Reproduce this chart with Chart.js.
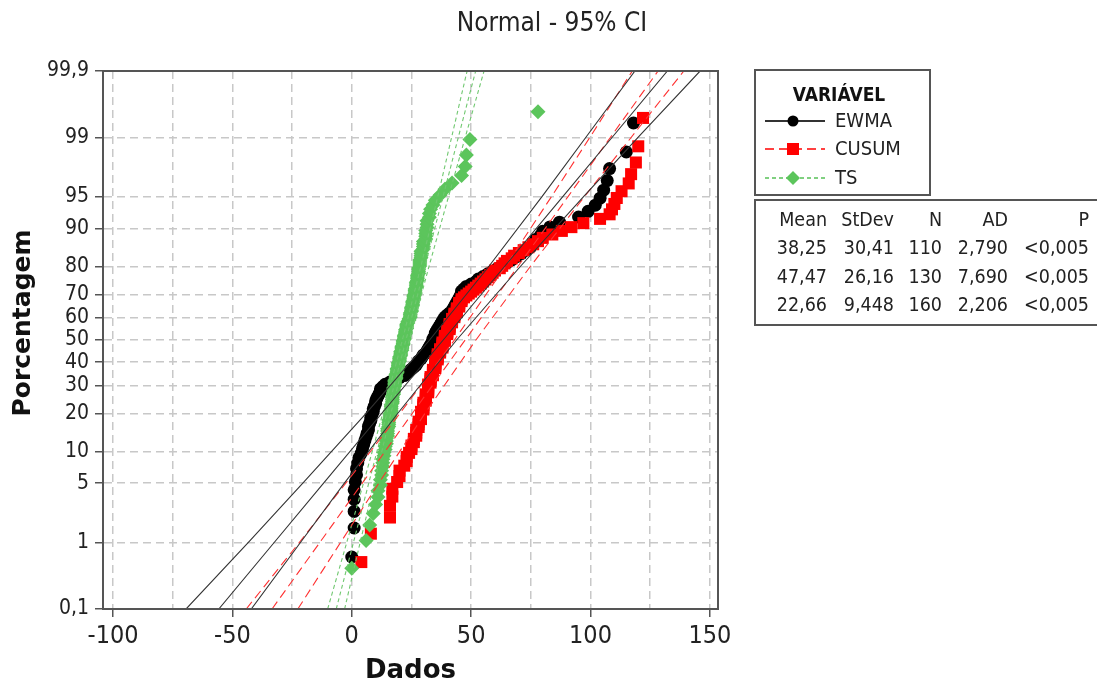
<!DOCTYPE html>
<html>
<head>
<meta charset="utf-8">
<script src="https://cdn.jsdelivr.net/npm/chart.js@4.4.1/dist/chart.umd.min.js"></script>
<style>
  html, body { margin: 0; padding: 0; background: #fff; }
</style>
</head>
<body>
<canvas id="canvas" width="1097" height="687"></canvas>
<script>
const ewma = [0, 1, 1, 1, 1, 1.5, 2, 2, 2.5, 3,
  4, 4.5, 5, 5.5, 6, 6.5, 7, 7, 7.5, 8,
  8, 8.5, 9, 9, 9.5, 10, 10, 10.5, 11, 11.5,
  12, 12, 13, 14, 16, 18, 20, 22, 23, 24,
  25, 26, 27, 27.5, 28, 29, 29.5, 30, 31, 31.5,
  32, 32.5, 33, 33.5, 34, 34, 34.5, 35, 35, 35.5,
  36, 36.5, 37, 37.5, 38, 38.5, 39, 40, 41, 42,
  42.5, 43, 43.5, 44, 44.5, 45, 45.5, 46, 46, 47,
  48, 50, 52, 53, 55, 57, 59, 61, 63, 65,
  67, 69, 71, 73, 75, 76, 77, 79, 80, 83,
  87, 95, 99, 102, 104, 105.5, 107, 108, 115, 118];

const cusum = [4, 8, 16, 16, 17, 17, 19, 20, 20, 22,
  23, 23, 24, 25, 25, 26, 26, 27, 27, 27,
  28, 28, 28, 29, 29, 29, 29, 30, 30, 30,
  30, 31, 31, 31, 31, 32, 32, 32, 32, 32,
  33, 33, 33, 33, 34, 34, 34, 34, 35, 35,
  35, 35, 35, 36, 36, 36, 36, 37, 37, 37,
  38, 38, 38, 38, 39, 39, 39, 39, 40, 40,
  40, 41, 41, 41, 41, 42, 42, 42, 43, 43,
  43, 44, 44, 44, 45, 45, 45, 46, 46, 47,
  48, 49, 50, 51, 52, 53, 54, 55, 56, 57,
  58, 59, 60, 62, 63, 64, 65, 67, 68, 70,
  72, 74, 76, 78, 80, 84, 88, 92, 97, 104,
  108, 109, 110, 111, 113, 116, 117, 119, 120, 122];

const ts = [0, 6, 7.5, 9, 10, 11, 11, 12, 12, 12.5,
  12.5, 13, 13, 13, 13.5, 13.5, 14, 14, 14.5, 14.5,
  14.5, 15, 15, 15, 15, 15.5, 15.5, 15.5, 15.5, 16,
  16, 16, 16.5, 16.5, 16.5, 16.5, 16.5, 17, 17, 17,
  17, 17, 17.5, 17.5, 17.5, 17.5, 17.5, 18, 18, 18,
  18, 18, 18.5, 18.5, 18.5, 18.5, 19, 19, 19, 19,
  19.5, 19.5, 19.5, 19.5, 20, 20, 20, 20, 20.5, 20.5,
  20.5, 20.5, 21, 21, 21, 21, 21.5, 21.5, 21.5, 21.5,
  22, 22, 22, 22, 22.5, 22.5, 22.5, 22.5, 23, 23,
  23, 23, 23.5, 23.5, 24, 24, 24.5, 24.5, 24.5, 24.5,
  25, 25, 25, 25, 25.5, 25.5, 25.5, 25.5, 26, 26,
  26, 26, 26.5, 26.5, 26.5, 26.5, 27, 27, 27, 27,
  27.5, 27.5, 27.5, 27.5, 28, 28, 28, 28, 28.5, 28.5,
  28.5, 28.5, 29, 29, 29, 29, 30, 30, 30, 30,
  31, 31, 31, 31, 31.5, 31.5, 31.5, 32.5, 32.5, 33,
  34, 35, 37, 39, 42, 46, 47.5, 48, 49.5, 78];

// fitted line and 95% CI, x values at these percentages
const fitPcts = [0.1, 1, 5, 20, 50, 80, 95, 99, 99.9];
const ewmaFit = [-55.7, -32.5, -11.8, 12.6, 38.3, 63.9, 88.3, 109.0, 132.2];
const ewmaLo = [-69.4, -43.4, -20.5, 6.0, 32.6, 57.3, 79.6, 98.0, 118.6];
const ewmaHi = [-42.1, -21.5, -3.1, 19.3, 43.9, 70.5, 97.0, 119.9, 145.9];
const cusumFit = [-33.4, -13.4, 4.4, 25.4, 47.5, 69.5, 90.5, 108.3, 128.3];
const cusumLo = [-44.2, -22.0, -2.5, 20.2, 43.0, 64.3, 83.6, 99.7, 117.5];
const cusumHi = [-22.6, -4.7, 11.3, 30.7, 52.0, 74.7, 97.4, 117.0, 139.1];
const tsFit = [-6.5, 0.7, 7.1, 14.7, 22.7, 30.6, 38.2, 44.6, 51.9];
const tsLo = [-10.1, -2.1, 4.9, 13.0, 21.2, 28.9, 36.0, 41.8, 48.3];
const tsHi = [-3.0, 3.5, 9.4, 16.4, 24.1, 32.3, 40.5, 47.5, 55.4];

const yTickPcts = [0.1, 1, 5, 10, 20, 30, 40, 50, 60, 70, 80, 90, 95, 99, 99.9];
const yTickLabels = ["0,1", "1", "5", "10", "20", "30", "40", "50", "60", "70", "80", "90", "95", "99", "99,9"];
const xGrid = [-100, -75, -50, -25, 0, 25, 50, 75, 100, 125, 150];

const seriesNames = ["EWMA", "CUSUM", "TS"];
const statsHeader = ["Mean", "StDev", "N", "AD", "P"];
const statsRows = [
  ["38,25", "30,41", "110", "2,790", "<0,005"],
  ["47,47", "26,16", "130", "7,690", "<0,005"],
  ["22,66", "9,448", "160", "2,206", "<0,005"],
];
const subtitle = "Normal - 95% CI";
const yTitle = "Porcentagem";

const FONT = '"DejaVu Sans Condensed", "DejaVu Sans", sans-serif';
const BOLD = '"DejaVu Sans", sans-serif';

// inverse standard normal cdf (Acklam)
function probit(p) {
  const a = [-3.969683028665376e+01, 2.209460984245205e+02, -2.759285104469687e+02, 1.383577518672690e+02, -3.066479806614716e+01, 2.506628277459239e+00];
  const b = [-5.447609879822406e+01, 1.615858368580409e+02, -1.556989798598866e+02, 6.680131188771972e+01, -1.328068155288572e+01];
  const c = [-7.784894002430293e-03, -3.223964580411365e-01, -2.400758277161838e+00, -2.549732539343734e+00, 4.374664141464968e+00, 2.938163982698783e+00];
  const d = [7.784695709041462e-03, 3.224671290700398e-01, 2.445134137142996e+00, 3.754408661907416e+00];
  const pl = 0.02425;
  let q, r;
  if (p < pl) {
    q = Math.sqrt(-2 * Math.log(p));
    return (((((c[0] * q + c[1]) * q + c[2]) * q + c[3]) * q + c[4]) * q + c[5]) / ((((d[0] * q + d[1]) * q + d[2]) * q + d[3]) * q + 1);
  }
  if (p > 1 - pl) {
    q = Math.sqrt(-2 * Math.log(1 - p));
    return -(((((c[0] * q + c[1]) * q + c[2]) * q + c[3]) * q + c[4]) * q + c[5]) / ((((d[0] * q + d[1]) * q + d[2]) * q + d[3]) * q + 1);
  }
  q = p - 0.5;
  r = q * q;
  return (((((a[0] * r + a[1]) * r + a[2]) * r + a[3]) * r + a[4]) * r + a[5]) * q / (((((b[0] * r + b[1]) * r + b[2]) * r + b[3]) * r + b[4]) * r + 1);
}

// median rank plotting positions
function toPoints(vals) {
  return vals.map((x, i) => ({ x: x, y: probit((i + 1 - 0.3) / (vals.length + 0.4)) }));
}
function toLine(xs) {
  return xs.map((x, i) => ({ x: x, y: probit(fitPcts[i] / 100) }));
}

function lineSet(xs, color, dash, width) {
  return {
    data: toLine(xs), showLine: true, pointRadius: 0, borderColor: color,
    borderWidth: width, borderDash: dash, fill: false, order: 0,
  };
}

const chartDecor = {
  id: "chartDecor",
  afterDraw(chart) {
    const { ctx, chartArea: { left, top, right, bottom } } = chart;
    ctx.save();

    // frame round the plot
    ctx.strokeStyle = "#555";
    ctx.lineWidth = 2;
    ctx.setLineDash([]);
    ctx.strokeRect(left, top, right - left, bottom - top);

    // subtitle
    ctx.fillStyle = "#222";
    ctx.font = "26px " + FONT;
    ctx.textAlign = "center";
    ctx.textBaseline = "middle";
    ctx.fillText(subtitle, 552, 24);

    // y axis title
    ctx.save();
    ctx.translate(23, 323);
    ctx.rotate(-Math.PI / 2);
    ctx.font = "bold 25px " + BOLD;
    ctx.fillStyle = "#111";
    ctx.fillText(yTitle, 0, 0);
    ctx.restore();

    // legend box
    ctx.strokeStyle = "#555";
    ctx.lineWidth = 2;
    ctx.strokeRect(755, 70, 175, 125);
    ctx.font = "bold 19px " + FONT;
    ctx.fillStyle = "#111";
    ctx.fillText("VARIÁVEL", 839, 96);

    const rows = [
      { y: 121, color: "#333", dash: [], mark: "#000", shape: "circle" },
      { y: 149, color: "#ff4040", dash: [9, 5], mark: "#ff0000", shape: "square" },
      { y: 178, color: "#80d080", dash: [4, 3], mark: "#5cc55c", shape: "diamond" },
    ];
    rows.forEach((r, i) => {
      ctx.beginPath();
      ctx.strokeStyle = r.color;
      ctx.lineWidth = 2;
      ctx.setLineDash(r.dash);
      ctx.moveTo(765, r.y);
      ctx.lineTo(825, r.y);
      ctx.stroke();
      ctx.setLineDash([]);
      ctx.fillStyle = r.mark;
      ctx.beginPath();
      if (r.shape === "circle") {
        ctx.arc(793, r.y, 5.5, 0, Math.PI * 2);
      } else if (r.shape === "square") {
        ctx.rect(787, r.y - 6, 12, 12);
      } else {
        ctx.moveTo(793, r.y - 7);
        ctx.lineTo(800, r.y);
        ctx.lineTo(793, r.y + 7);
        ctx.lineTo(786, r.y);
        ctx.closePath();
      }
      ctx.fill();
      ctx.fillStyle = "#222";
      ctx.font = "20px " + FONT;
      ctx.textAlign = "left";
      ctx.fillText(seriesNames[i], 835, r.y + 1);
      ctx.textAlign = "center";
    });

    // stats table
    ctx.strokeStyle = "#555";
    ctx.lineWidth = 2;
    ctx.strokeRect(755, 200, 350, 125);
    const colRight = [827, 894, 942, 1008, 1089];
    ctx.font = "19.5px " + FONT;
    ctx.fillStyle = "#222";
    ctx.textAlign = "right";
    statsHeader.forEach((h, j) => ctx.fillText(h, colRight[j], 221));
    statsRows.forEach((row, i) => {
      row.forEach((v, j) => ctx.fillText(v, colRight[j], 249 + i * 28.5));
    });

    ctx.restore();
  },
};

const gridBase = {
  color: "#c8c8c8",
  lineWidth: 1.5,
  tickLength: 8,
  tickWidth: 1.5,
  tickBorderDash: [],
};

const ctx = document.getElementById("canvas").getContext("2d");
new Chart(ctx, {
  type: "scatter",
  data: {
    datasets: [
      lineSet(ewmaFit, "#333", [], 1.1),
      lineSet(ewmaLo, "#333", [], 1.1),
      lineSet(ewmaHi, "#333", [], 1.1),
      lineSet(cusumFit, "#ff3030", [9, 5], 1.1),
      lineSet(cusumLo, "#ff3030", [9, 5], 1.1),
      lineSet(cusumHi, "#ff3030", [9, 5], 1.1),
      lineSet(tsFit, "#70c870", [4, 3], 1.1),
      lineSet(tsLo, "#70c870", [4, 3], 1.1),
      lineSet(tsHi, "#70c870", [4, 3], 1.1),
      { label: "EWMA", data: toPoints(ewma), pointStyle: "circle", pointRadius: 6.5, backgroundColor: "#000", borderWidth: 0, order: 3 },
      { label: "CUSUM", data: toPoints(cusum), pointStyle: "rect", pointRadius: 8.5, backgroundColor: "#ff0000", borderWidth: 0, order: 2 },
      { label: "TS", data: toPoints(ts), pointStyle: "rectRot", pointRadius: 7.5, backgroundColor: "#5cc55c", borderWidth: 0, order: 1 },
    ],
  },
  options: {
    responsive: false,
    animation: false,
    devicePixelRatio: 1,
    layout: { padding: { top: 71, right: 379, left: 0, bottom: 0 } },
    plugins: { legend: { display: false }, tooltip: { enabled: false } },
    scales: {
      x: {
        type: "linear",
        min: -104.2,
        max: 153.4,
        afterBuildTicks: (scale) => { scale.ticks = xGrid.map((v) => ({ value: v })); },
        afterFit: (scale) => { scale.height = 78; },
        ticks: {
          autoSkip: false,
          maxRotation: 0,
          padding: 4,
          color: "#222",
          font: { family: FONT, size: 25 },
          callback: (v) => (v % 50 === 0 ? String(v) : ""),
        },
        grid: Object.assign({}, gridBase, {
          tickColor: (c) => (c.tick && c.tick.value % 50 === 0 ? "#555" : "rgba(0,0,0,0)"),
        }),
        border: { display: true, color: "#555", width: 2, dash: [8, 5] },
        title: {
          display: true,
          text: "Dados",
          color: "#111",
          font: { family: BOLD, size: 26, weight: "bold" },
          padding: { top: 0, bottom: 0 },
        },
      },
      y: {
        type: "linear",
        min: probit(0.001),
        max: probit(0.999),
        afterBuildTicks: (scale) => { scale.ticks = yTickPcts.map((p) => ({ value: probit(p / 100) })); },
        afterFit: (scale) => { scale.width = 103; },
        ticks: {
          autoSkip: false,
          padding: 6,
          color: "#222",
          font: { family: FONT, size: 21 },
          callback: (v, i) => yTickLabels[i],
        },
        grid: Object.assign({}, gridBase, { tickColor: "#555" }),
        border: { display: true, color: "#555", width: 2, dash: [8, 5] },
        title: { display: false },
      },
    },
  },
  plugins: [chartDecor],
});
</script>
</body>
</html>
